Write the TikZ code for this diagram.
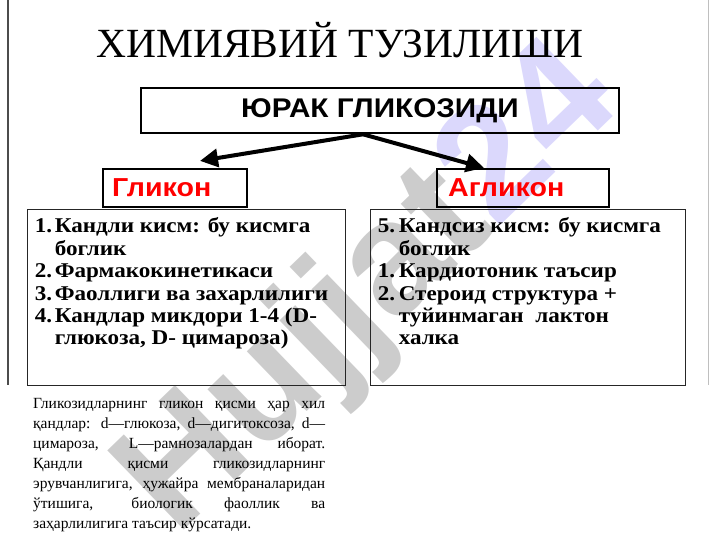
\documentclass[tikz,border=0pt]{standalone}
\usepackage{fontspec}
\setmainfont{Liberation Serif}
\newfontfamily\arialfont{Liberation Sans}
\newfontfamily\widearial[FakeStretch=1.1]{Liberation Sans}
\newfontfamily\widetimes[FakeStretch=1.1]{Liberation Serif}
\usetikzlibrary{arrows.meta,positioning,shapes}
\usepackage{xcolor}
\definecolor{wmgray}{RGB}{170,170,170}
\definecolor{wmlav}{RGB}{195,190,250}

\begin{document}
\begin{tikzpicture}[x=1pt, y=-1pt,
    headbox/.style={
        rectangle,
        draw,
        line width=2.2pt,
        inner sep=0pt
    },
    listbox/.style={
        rectangle,
        draw=black!85,
        line width=0.8pt,
        inner sep=0pt
    },
    listtext/.style={
        align=left,
        inner sep=0pt,
        font=\widetimes\bfseries\fontsize{21}{22.4}\selectfont
    },
    redlabel/.style={
        anchor=west,
        inner sep=0pt,
        text=red,
        font=\widearial\bfseries\fontsize{26}{26}\selectfont
    },
    bigarrow/.style={
        line width=4pt,
        -{Triangle[length=18pt,width=18pt]}
    }
]
    \useasboundingbox (0,0) rectangle (720,540);
    % watermark
    \node (watermark) [rotate=44, opacity=0.6, text=wmgray,
        font=\arialfont\bfseries\fontsize{160}{160}\selectfont] at (372,292)
    {
        Hujjat{\color{wmlav}24}
    };
    % page edges
    \draw[black!70, line width=1.5pt] (8,0) -- (8,385);
    \draw[black!25, line width=1pt] (708,0) -- (708,385);
    \node (title) [anchor=base, font=\fontsize{41.5}{41.5}\selectfont] at (340,58)
    {
        ХИМИЯВИЙ ТУЗИЛИШИ
    };
    \node (yurak) [headbox, line width=2.6pt, minimum width=478pt, minimum height=45pt,
        font=\widearial\bfseries\fontsize{27}{27}\selectfont] at (380,110.5)
    {
        ЮРАК ГЛИКОЗИДИ
    };
    \node (glikon) [headbox, minimum width=144pt, minimum height=38pt] at (175,188) {};
    \node (aglikon) [headbox, minimum width=172pt, minimum height=38pt] at (523,188) {};
    \node (glikon_label) [redlabel] at ([xshift=10pt]glikon.west) {Гликон};
    \node (aglikon_label) [redlabel] at ([xshift=12pt]aglikon.west) {Агликон};
    \coordinate (split) at ([xshift=-17pt]yurak.south);
    \coordinate (glikon_tip) at ([xshift=25pt, yshift=7pt]glikon.north);
    \coordinate (aglikon_tip) at ([xshift=-39pt]aglikon.north);
    \draw[bigarrow] (split) -- (glikon_tip);
    \draw[bigarrow] (split) -- (aglikon_tip);
    \node (glikon_box) [listbox, minimum width=318pt, minimum height=176pt] at (186,297) {};
    \node (aglikon_box) [listbox, minimum width=315pt, minimum height=176pt] at (527.5,297) {};
    \node (glikon_list) [listtext, anchor=north west]
        at ([xshift=8pt, yshift=-9pt]glikon_box.north west)
    {
        \makebox[20pt][l]{1.}Кандли кисм: бу кисмга\\
        \hspace*{20pt}боглик\\
        \makebox[20pt][l]{2.}Фармакокинетикаси\\
        \makebox[20pt][l]{3.}Фаоллиги ва захарлилиги\\
        \makebox[20pt][l]{4.}Кандлар микдори 1-4 (D-\\
        \hspace*{20pt}глюкоза, D- цимароза)
    };
    \node (aglikon_list) [listtext, anchor=north west]
        at ([xshift=8pt, yshift=-9pt]aglikon_box.north west)
    {
        \makebox[21pt][l]{5.}Кандсиз кисм: бу кисмга\\
        \hspace*{21pt}боглик\\
        \makebox[21pt][l]{1.}Кардиотоник таъсир\\
        \makebox[21pt][l]{2.}Стероид структура +\\
        \hspace*{21pt}туйинмаган\ \ лактон\\
        \hspace*{21pt}халка
    };
    \node (note) [anchor=north west, inner sep=0pt, text width=292pt, align=justify,
        font=\fontsize{15.5}{20}\selectfont] at (33,398)
    {
        Гликозидларнинг гликон қисми ҳар хил\linebreak
        қандлар: d—глюкоза, d—дигитоксоза, d—\linebreak
        цимароза, L—рамнозалардан иборат.\linebreak
        Қандли қисми гликозидларнинг\linebreak
        эрувчанлигига, ҳужайра мембраналаридан\linebreak
        ўтишига, биологик фаоллик ва\linebreak
        заҳарлилигига таъсир кўрсатади.
    };
\end{tikzpicture}
\end{document}
